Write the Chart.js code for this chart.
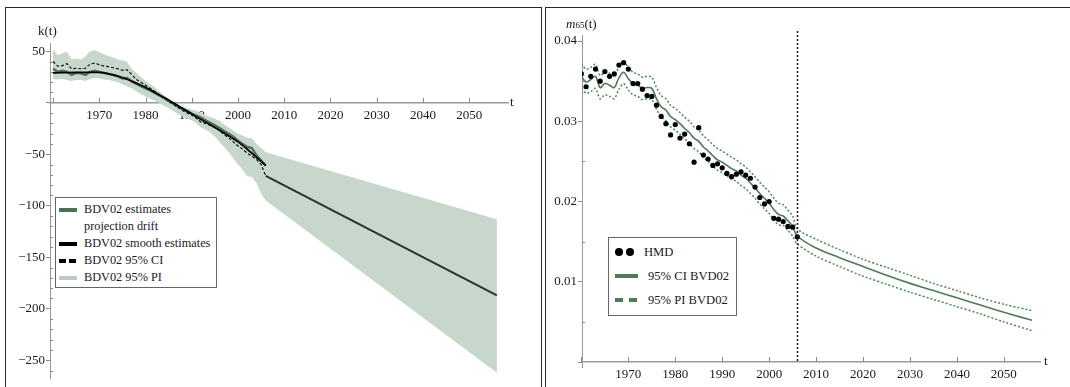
<!DOCTYPE html>
<html>
<head>
<meta charset="utf-8">
<script src="https://cdn.jsdelivr.net/npm/chart.js@4.4.1/dist/chart.umd.min.js"></script>
<style>
  body { margin: 0; background: #fff; width: 1070px; height: 387px; overflow: hidden; position: relative;
         font-family: "Liberation Serif", "DejaVu Serif", serif; color: #1a1a1a; }
  canvas { position: absolute; top: 0; }
  .panel { position: absolute; top: 7px; height: 400px; border: 1.5px solid #2a2a2a; box-sizing: border-box; pointer-events: none; }
  .lbl { position: absolute; font-size: 13px; white-space: nowrap; line-height: 14px; }
  .legend { position: absolute; border: 1px solid #666; background: #fff; box-sizing: border-box; }
  .row { display: flex; align-items: center; white-space: nowrap; }
  .sw { display: inline-block; width: 18px; height: 4px; margin-right: 7px; flex: none; }
  .dot { display: inline-block; width: 8px; height: 8px; border-radius: 50%; background: #000; margin-right: 3px; }
</style>
</head>
<body>
<canvas id="kChart" width="543" height="387" style="left:0"></canvas>
<canvas id="mChart" width="527" height="387" style="left:543px"></canvas>

<div class="panel" style="left:5px;width:537px"></div>
<div class="panel" style="left:545px;width:530px"></div>

<div class="lbl" style="left:38px;top:24px">k(t)</div>
<div class="lbl" style="left:510px;top:95px">t</div>
<div class="lbl" style="left:566px;top:17px"><i>m</i><span style="font-size:9px">65</span>(t)</div>
<div class="lbl" style="left:1044px;top:354px">t</div>

<div class="legend" style="left:55px;top:197px;width:162px;height:91px;padding:3px 0 0 3px;line-height:17px;font-size:12.3px">
  <div class="row"><span class="sw" style="background:#4b7155"></span>BDV02 estimates</div>
  <div class="row"><span class="sw"></span>projection drift</div>
  <div class="row"><span class="sw" style="background:#000"></span>BDV02 smooth estimates</div>
  <div class="row"><span class="sw" style="background:repeating-linear-gradient(90deg,#000 0 7px,transparent 7px 10px)"></span>BDV02 95% CI</div>
  <div class="row"><span class="sw" style="background:#bccdbf"></span>BDV02 95% PI</div>
</div>

<div class="legend" style="left:608px;top:237px;width:129px;height:79px;padding:2px 0 0 6px;line-height:24px;font-size:12.6px">
  <div class="row"><span class="dot"></span><span class="dot" style="margin-right:10px"></span>HMD</div>
  <div class="row"><span class="sw" style="width:23px;margin-right:10px;background:#4d7a57"></span>95% CI BVD02</div>
  <div class="row"><span class="sw" style="width:23px;margin-right:10px;background:repeating-linear-gradient(90deg,#4d7a57 0 8px,transparent 8px 14px)"></span>95% PI BVD02</div>
</div>

<script>
// ---- left panel: k(t) ----
const histYears = Array.from({length: 47}, (_, i) => 1960 + i);

const kEstimates = [33, 30, 31, 30, 27, 29, 28.5, 27, 30, 31,
                    30, 29, 28, 27, 25.5, 23.5, 24, 21, 18.5, 16,
                    14, 12, 9.5, 7, 4.5, 1.5, -1, -3.5, -6, -8,
                    -10.5, -12.5, -14.5, -17, -19.5, -22, -24.5, -27.5, -30, -33,
                    -37, -40, -43, -44, -51, -56, -61];

const kSmoothYears = [1960, 1965, 1970, 1972, 1975, 1978, 1980, 1983, 1986, 1990, 1995, 2000, 2003, 2006];
const kSmooth = [29, 29.5, 29.5, 28, 24.5, 19, 15, 7.5, 0, -11, -24, -38, -49, -61];

const kCI = [40, 35.5, 36, 38, 33, 33.5, 33, 33.5, 37.5, 38.5,
             37, 35.5, 35, 34, 33, 31.5, 32, 27.5, 22.5, 20,
             17, 14, 11, 8, 5, 1.5, -1.5, -4.5, -7.5, -10,
             -12, -15, -19, -20, -22, -24, -27, -31, -34, -38,
             -42, -45, -49, -52, -55, -60, -71];

const kProjYears = [2006, 2056];
const kProjection = [-71, -187];

const kBandYears = histYears.concat([2056]);
const kUpper = [52, 46, 48, 49.5, 42, 43, 42, 45, 50, 51,
                49, 47, 45.5, 44, 42, 41, 40, 33, 29, 25,
                21, 18, 15, 11, 7.5, 4, 0, -2, -4, -5,
                -6.5, -8, -10, -12, -14, -15.5, -17.5, -21, -24, -27,
                -30, -32, -34, -34.5, -40, -44, -48, -113];
const kLower = [23, 22.5, 23, 22, 21, 22, 22, 21, 23, 24,
                23.5, 22.5, 22, 21, 20, 18, 16, 14, 11, 8.5,
                6, 4, 2, -0.5, -3, -5, -8, -11, -13, -15.5,
                -17, -20, -24, -26, -29, -33, -38, -43, -48, -54,
                -60, -65, -71, -72, -78, -88, -95, -262];

// ---- right panel: m65(t) ----
const hmd = [.0359, .0343, .0356, .0365, .0350, .0362, .0356, .0359, .0370, .0373,
             .0365, .0347, .0347, .0340, .0332, .0331, .0320, .0306, .0297, .0283,
             .0296, .0279, .0284, .0272, .0249, .0292, .0258, .0253, .0245, .0247,
             .0242, .0235, .0231, .0234, .0237, .0233, .0229, .0218, .0205, .0197,
             .0200, .0179, .0178, .0175, .0169, .0168, .0156];

const mCI = [.0356, .0349, .0352, .0356, .0342, .0347, .0345, .0342, .0354, .0361,
             .0353, .0347, .0345, .0341, .0342, .0341, .0328, .0318, .0314, .0306,
             .0302, .0297, .0291, .0286, .0279, .0275, .0268, .0263, .0257, .0252,
             .0249, .0245, .0241, .0238, .0233, .0229, .0223, .0217, .0210, .0204,
             .0198, .0190, .0184, .0182, .0176, .0169, .0157];
const mUpper = [.0372, .0365, .0367, .0371, .0357, .0361, .0360, .0357, .0368, .0375,
                .0367, .0361, .0359, .0355, .0356, .0355, .0342, .0332, .0328, .0320,
                .0316, .0311, .0305, .0300, .0293, .0289, .0282, .0277, .0271, .0266,
                .0263, .0259, .0255, .0252, .0247, .0243, .0237, .0231, .0224, .0218,
                .0212, .0204, .0198, .0196, .0189, .0182, .0166];
const mLower = [.0341, .0335, .0337, .0341, .0328, .0333, .0331, .0328, .0340, .0347,
                .0339, .0333, .0331, .0327, .0328, .0327, .0315, .0305, .0301, .0293,
                .0289, .0284, .0278, .0273, .0266, .0262, .0255, .0250, .0244, .0239,
                .0236, .0232, .0228, .0225, .0220, .0216, .0210, .0204, .0197, .0191,
                .0185, .0177, .0171, .0170, .0164, .0157, .0147];

const projYears = [2010, 2015, 2020, 2025, 2030, 2035, 2040, 2045, 2050, 2056];
const projCI = [.0142, .0130, .0119, .0108, .0098, .0089, .0080, .0071, .0062, .0052];
const projUpper = [.0153, .0140, .0128, .0118, .0108, .0098, .0089, .0080, .0072, .0064];
const projLower = [.0132, .0119, .0107, .0097, .0087, .0078, .0069, .0060, .0050, .0039];

const forecastStart = 2006;

const bandColor = '#c8d7cb';
const estGreen = '#4b7155';
const ciGreen = '#4d7a57';
const piGreen = '#4f8560';
Chart.defaults.font.family = '"Liberation Serif", "DejaVu Serif", serif';
const axisFont = { family: '"Liberation Serif", "DejaVu Serif", serif', size: 13 };

function pts(xs, ys) {
    return xs.map((x, i) => ({ x: x, y: ys[i] }));
}

function minus(v) {
    return v < 0 ? '\u2212' + Math.abs(v) : String(v);
}

// extra tick marks drawn on the inside of the axes, Mathematica style
const insideTicks = {
    id: 'insideTicks',
    afterDraw(chart, args, opts) {
        const ctx = chart.ctx;
        const xs = chart.scales.x, ys = chart.scales.y;
        const y0 = ys.getPixelForValue(0);
        const x0 = chart.chartArea.left;
        ctx.save();
        ctx.strokeStyle = '#8a8a8a';
        ctx.lineWidth = 1;
        ctx.beginPath();
        (opts.xMajor || []).forEach(v => {
            const px = Math.round(xs.getPixelForValue(v)) + 0.5;
            ctx.moveTo(px, y0); ctx.lineTo(px, y0 - 5);
        });
        (opts.yMinor || []).forEach(v => {
            const py = Math.round(ys.getPixelForValue(v)) + 0.5;
            ctx.moveTo(x0, py); ctx.lineTo(x0 + 3, py);
        });
        ctx.stroke();
        if (opts.vline) {
            const px = Math.round(xs.getPixelForValue(opts.vline)) + 0.5;
            ctx.strokeStyle = '#222';
            ctx.lineWidth = 1.6;
            ctx.setLineDash([2, 2]);
            ctx.beginPath();
            ctx.moveTo(px, chart.chartArea.top - 4);
            ctx.lineTo(px, y0);
            ctx.stroke();
        }
        ctx.restore();
    }
};

const decades = [1960, 1970, 1980, 1990, 2000, 2010, 2020, 2030, 2040, 2050];

function xScale(min, max) {
    return {
        type: 'linear',
        min: min, max: max,
        position: { y: 0 },
        border: { color: '#9a9a9a', width: 1.5 },
        grid: { drawOnChartArea: false, drawTicks: false },
        ticks: {
            stepSize: 10, includeBounds: false, autoSkip: false, maxRotation: 0,
            padding: 5, color: '#1a1a1a', font: axisFont,
            callback: v => (v === 1960 ? '' : String(v))
        }
    };
}

// ---- k(t) chart ----
const kMinor = [];
for (let v = -260; v <= 50; v += 10) if (v % 50 !== 0) kMinor.push(v);

new Chart(document.getElementById('kChart').getContext('2d'), {
    type: 'line',
    data: {
        datasets: [
            { data: pts(kBandYears, kUpper), fill: '+1', backgroundColor: bandColor, borderWidth: 0, pointRadius: 0, order: 10 },
            { data: pts(kBandYears, kLower), fill: false, borderWidth: 0, pointRadius: 0, order: 11 },
            { data: pts(histYears, kEstimates), borderColor: estGreen, borderWidth: 2.4, pointRadius: 0, tension: 0, order: 4 },
            { data: pts(kSmoothYears, kSmooth), borderColor: '#000', borderWidth: 1.8, pointRadius: 0, cubicInterpolationMode: 'monotone', order: 3 },
            { data: pts(histYears, kCI), borderColor: '#111', borderWidth: 1.2, borderDash: [3, 2], pointRadius: 0, tension: 0, order: 2 },
            { data: pts(kProjYears, kProjection), borderColor: '#26352b', borderWidth: 2, pointRadius: 0, order: 1 }
        ]
    },
    options: {
        responsive: false,
        animation: false,
        layout: { padding: { left: 0, top: 43, right: 35, bottom: 9 } },
        plugins: {
            legend: { display: false },
            tooltip: { enabled: false },
            insideTicks: { xMajor: decades, yMinor: kMinor }
        },
        scales: {
            x: xScale(1959.34, 2058.4),
            y: {
                type: 'linear',
                min: -267.2, max: 58,
                afterFit: s => { s.width = 50; },
                border: { color: '#9a9a9a', width: 1 },
                grid: { drawOnChartArea: false, tickLength: 4, color: '#8a8a8a' },
                ticks: {
                    stepSize: 50, includeBounds: false, padding: 1, color: '#1a1a1a', font: axisFont,
                    callback: v => (v === 0 ? '' : minus(v))
                }
            }
        }
    },
    plugins: [insideTicks]
});

// ---- m65(t) chart ----
const mMinor = [0.005, 0.015, 0.025, 0.035];

new Chart(document.getElementById('mChart').getContext('2d'), {
    type: 'line',
    data: {
        datasets: [
            { data: pts(histYears, hmd), showLine: false, pointRadius: 2.6, pointBackgroundColor: '#000', pointBorderWidth: 0, order: 1 },
            { data: pts(histYears.concat(projYears), mCI.concat(projCI)), borderColor: ciGreen, borderWidth: 1.6, pointRadius: 0, tension: 0.4, order: 2 },
            { data: pts(histYears.concat(projYears), mUpper.concat(projUpper)), borderColor: piGreen, borderWidth: 1.5, borderDash: [2, 2], pointRadius: 0, tension: 0.3, order: 3 },
            { data: pts(histYears.concat(projYears), mLower.concat(projLower)), borderColor: piGreen, borderWidth: 1.5, borderDash: [2, 2], pointRadius: 0, tension: 0.3, order: 3 }
        ]
    },
    options: {
        responsive: false,
        animation: false,
        layout: { padding: { left: 0, top: 35, right: 30, bottom: 20 } },
        plugins: {
            legend: { display: false },
            tooltip: { enabled: false },
            insideTicks: { xMajor: decades, yMinor: mMinor, vline: forecastStart }
        },
        scales: {
            x: xScale(1960.13, 2057.7),
            y: {
                type: 'linear',
                min: -0.00062, max: 0.04075,
                afterFit: s => { s.width = 39; },
                border: { color: '#9a9a9a', width: 1 },
                grid: { drawOnChartArea: false, tickLength: 4, color: '#8a8a8a' },
                ticks: {
                    stepSize: 0.01, includeBounds: false, padding: 1, color: '#1a1a1a', font: axisFont,
                    callback: v => (Math.abs(v) < 1e-9 ? '' : v.toFixed(2))
                }
            }
        }
    },
    plugins: [insideTicks]
});
</script>
</body>
</html>
